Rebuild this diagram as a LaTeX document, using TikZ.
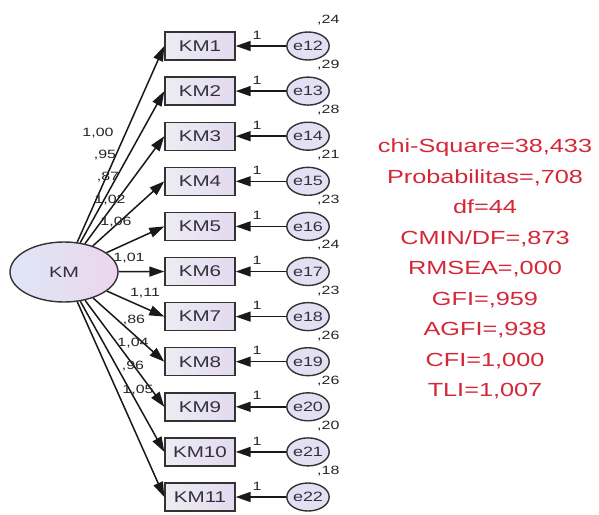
\documentclass[tikz,border=0pt]{standalone}
\usepackage{fontspec}
\setmainfont{Liberation Sans}[FakeStretch=1.33]
\usetikzlibrary{shapes.geometric,arrows.meta}
\definecolor{semred}{RGB}{212,40,56}
\definecolor{boxlav}{RGB}{226,218,240}
\definecolor{boxlite}{RGB}{238,236,242}
\definecolor{ellblue}{RGB}{222,230,246}
\definecolor{ellpink}{RGB}{236,214,238}
\definecolor{errfill}{RGB}{228,224,244}
\definecolor{txtgray}{RGB}{50,50,60}
\tikzset{
  obs/.style={draw=black!80, line width=1.4pt, rectangle, minimum width=70pt, minimum height=28pt, inner sep=0pt,
    left color=boxlite, right color=boxlav, font=\fontsize{15.5}{15.5}\selectfont, text=txtgray},
  lat/.style={draw=black!80, line width=1.4pt, ellipse, minimum width=108pt, minimum height=60pt, inner sep=0pt,
    left color=ellblue, right color=ellpink, font=\fontsize{15}{15}\selectfont, text=txtgray},
  err/.style={draw=black!80, line width=1.4pt, ellipse, minimum width=30pt, minimum height=28pt, inner sep=0pt,
    fill=errfill, font=\fontsize{13.5}{13.5}\selectfont, text=txtgray},
  lbl/.style={font=\fontsize{12}{12}\selectfont, text=black!85, inner sep=0pt},
  path/.style={draw=black!90, line width=1.5pt, -{Triangle[length=15pt,width=10pt]}},
  stats/.style={align=center, text=semred, font=\fontsize{19}{30.5}\selectfont, inner sep=0pt}
}
\begin{document}
\begin{tikzpicture}[x=1pt,y=-1pt]
\useasboundingbox[fill=white] (0,0) rectangle (599,514);
\node[lat] (KM) at (64,272) {KM};
\foreach \i/\e in {1/12,2/13,3/14,4/15,5/16,6/17,7/18,8/19,9/20,10/21,11/22}{
  \node[obs] (KM\i) at (200,{46+45.1*(\i-1)}) {KM\i};
  \node[err] (e\e) at (308,{46+45.1*(\i-1)}) {e\e};
  \draw[path] (e\e) -- (KM\i);
  \draw[path] (KM) -- (KM\i.west);
  \node[lbl] (one\i) at (257,{35+45.1*(\i-1)}) {1};
}
\foreach \e/\v in {12/24,13/29,14/28,15/21,16/23,17/24,18/23,19/26,20/26,21/20,22/18}{
  \node[lbl, anchor=west] (v\e) at ([xshift=9pt,yshift=26pt]e\e.center) {,\v};
}
\node[lbl] (l1) at (98,133) {1,00};
\node[lbl] (l2) at (105,155) {,95};
\node[lbl] (l3) at (108,177) {,87};
\node[lbl] (l4) at (110,200) {1,02};
\node[lbl] (l5) at (116,222) {1,06};
\node[lbl] (l6) at (129,258) {1,01};
\node[lbl] (l7) at (145,293) {1,11};
\node[lbl] (l8) at (134,320) {,86};
\node[lbl] (l9) at (133,343) {1,04};
\node[lbl] (l10) at (133,366) {,96};
\node[lbl] (l11) at (138,390) {1,05};
\node[stats] (fit) at (485,269) {chi-Square=38,433\\Probabilitas=,708\\df=44\\CMIN/DF=,873\\RMSEA=,000\\GFI=,959\\AGFI=,938\\CFI=1,000\\TLI=1,007};
\end{tikzpicture}
\end{document}
